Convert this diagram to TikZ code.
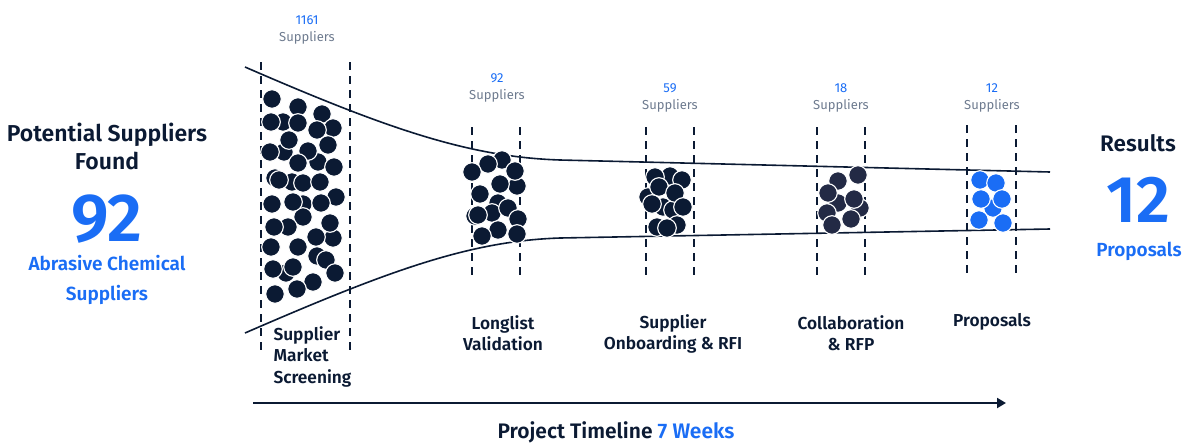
\documentclass[tikz,border=0pt]{standalone}
\usepackage{fontspec}
\setmainfont{Fira Sans}[BoldFont={Fira Sans SemiBold}]
\usetikzlibrary{arrows.meta,positioning}

\definecolor{navy}{HTML}{0B1A33}
\definecolor{slate}{HTML}{232A45}
\definecolor{brand}{HTML}{1A6DF5}
\definecolor{muted}{HTML}{6E7B8F}

\begin{document}
\begin{tikzpicture}[x=1pt, y=-1pt,
  dot/.style={fill=navy, draw=white, line width=1.1pt},
  funnel/.style={draw=navy, line width=1.6pt},
  lane/.style={draw=navy, line width=1.6pt, dash pattern=on 8pt off 6pt},
  count/.style={align=center, font=\fontsize{13}{17}\selectfont, text=muted},
  stage/.style={align=center, font=\fontsize{17.3}{21.5}\selectfont\bfseries, text=navy},
  big/.style={inner sep=0pt, text=brand},
  arrow/.style={-{Triangle[length=9pt,width=10pt]}, draw=navy, line width=2pt}]
  \useasboundingbox (0,0) rectangle (1184,445);

  % funnel outline
  \draw[funnel] (245,67) .. controls (390,130) and (470,157) .. (560,160) -- (1050,172);
  \draw[funnel] (245,333) .. controls (390,270) and (470,241) .. (560,238) -- (1050,229);

  % stage lanes
  \foreach \a/\b/\t/\u in {261/350/62/352, 472/520/127/278, 646/694/127/278, 817/865/127/279, 967/1016/125/277}{
    \draw[lane] (\a,\t) -- (\a,\u);
    \draw[lane] (\b,\t) -- (\b,\u);
  }

  % suppliers per stage
  \foreach \x/\y in {283/122, 284/152, 318/162, 275/178, 292/182, 303/183, 303/204, 303/217, 333/238, 317/256, 286/273,
    272/99, 298/107, 322/114, 271/122, 298/123, 333/128, 317/130, 289/140, 328/145, 270/152, 308/151, 298/163, 334/167,
    279/180, 320/182, 336/197, 272/204, 293/202, 321/203, 288/227, 274/227, 330/223, 316/237, 271/247, 298/247, 326/260,
    273/269, 293/267, 335/273, 313/282, 297/289, 275/294}
    \filldraw[dot] (\x,\y) circle (9.3pt);
  \foreach \x/\y in {502/160, 517/186, 498/203, 475/216, 492/213, 498/230,
    488/164, 472/172, 515/171, 500/184, 480/194, 508/208, 478/215, 518/219, 482/236, 517/234}
    \filldraw[dot] (\x,\y) circle (9.3pt);
  \foreach \x/\y in {670/176, 648/197, 663/207, 673/210,
    655/177, 682/180, 659/187, 675/193, 652/204, 683/207, 657/227, 677/225, 667/228}
    \filldraw[dot] (\x,\y) circle (9.3pt);
  \foreach \x/\y in {838/203, 860/208, 838/181, 858/175, 828/193, 854/199, 827/213, 832/225, 851/219}
    \filldraw[dot, fill=slate] (\x,\y) circle (9.3pt);
  \foreach \x/\y in {993/208, 980/180, 996/183, 981/199, 1002/199, 979/220, 1003/223}
    \filldraw[dot, fill=brand] (\x,\y) circle (9.3pt);

  % counts above the lanes
  \node[count] (n1) at (307,30) {\textcolor{brand}{1161}\\Suppliers};
  \node[count] (n2) at (497,88) {\textcolor{brand}{92}\\Suppliers};
  \node[count] (n3) at (670,98) {\textcolor{brand}{59}\\Suppliers};
  \node[count] (n4) at (841,98) {\textcolor{brand}{18}\\Suppliers};
  \node[count] (n5) at (992,98) {\textcolor{brand}{12}\\Suppliers};

  % stage names
  \node[stage, align=left, anchor=north west] (s1) at (270,323) {Supplier\\Market\\Screening};
  \node[stage] (s2) at (503,333) {Longlist\\Validation};
  \node[stage] (s3) at (673,334) {Supplier\\Onboarding \& RFI};
  \node[stage] (s4) at (851,333) {Collaboration\\\& RFP};
  \node[stage] (s5) at (992,322) {Proposals};

  % left summary
  \node[align=center, text=navy, font=\fontsize{23}{28}\selectfont\bfseries] (found) at (107,146) {Potential Suppliers\\Found};
  \node[big, font=\fontsize{68}{68}\selectfont\bfseries] (total) at (107,219) {92};
  \node[align=center, text=brand, font=\fontsize{19}{30}\selectfont\bfseries] (kind) at (107,280) {Abrasive Chemical\\Suppliers};

  % right summary
  \node[text=navy, font=\fontsize{22.5}{24}\selectfont\bfseries] (res) at (1138,143) {Results};
  \node[big, font=\fontsize{66}{66}\selectfont\bfseries] (final) at (1138,200) {12};
  \node[big, font=\fontsize{19}{20}\selectfont\bfseries] (prop) at (1139,251) {Proposals};

  % timeline
  \coordinate (t0) at (253,403);
  \coordinate (t1) at (1006,403);
  \draw[arrow] (t0) -- (t1);
  \node[text=navy, font=\fontsize{21}{24}\selectfont\bfseries] (weeks) at (616,432) {Project Timeline \textcolor{brand}{7 Weeks}};
\end{tikzpicture}
\end{document}
